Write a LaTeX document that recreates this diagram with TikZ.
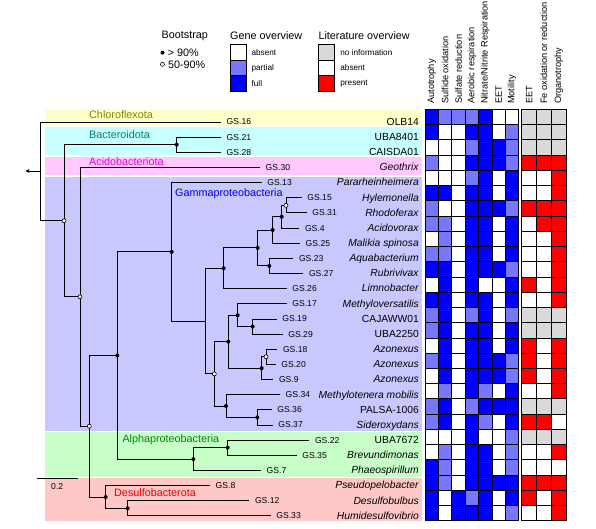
\documentclass[tikz,border=0pt]{standalone}
\usepackage{fontspec}
\setmainfont{Liberation Sans}
\usetikzlibrary{positioning, arrows.meta}

\definecolor{bandyellow}{RGB}{255,255,200}
\definecolor{bandcyan}{RGB}{200,255,255}
\definecolor{bandpink}{RGB}{255,200,255}
\definecolor{bandlav}{RGB}{200,200,255}
\definecolor{bandgreen}{RGB}{200,255,200}
\definecolor{bandred}{RGB}{255,200,200}
\definecolor{partblue}{RGB}{120,120,255}
\definecolor{fullblue}{RGB}{0,0,255}
\definecolor{noinfo}{RGB}{217,217,217}
\definecolor{chlorotxt}{RGB}{140,130,0}
\definecolor{bactotxt}{RGB}{0,128,128}
\definecolor{acidotxt}{RGB}{225,0,225}
\definecolor{gammatxt}{RGB}{0,0,220}
\definecolor{alphatxt}{RGB}{0,135,0}
\definecolor{desulfotxt}{RGB}{230,0,0}

\begin{document}
\begin{tikzpicture}[x=1pt, y=-1pt,
  br/.style={line width=0.9pt},
  bsfill/.style={circle, fill=black, inner sep=0pt, minimum size=4pt},
  bsopen/.style={circle, draw=black, fill=white, line width=0.6pt, inner sep=0pt, minimum size=4pt},
  gs/.style={font=\fontsize{8.6}{10}\selectfont, inner sep=0.5pt},
  taxon/.style={font=\fontsize{10.3}{12}\selectfont, anchor=base east, inner sep=0pt},
  clade/.style={font=\fontsize{10.8}{13}\selectfont, anchor=base west, inner sep=0pt},
  hdr/.style={font=\fontsize{9.2}{10}\selectfont, rotate=90, anchor=west, inner sep=0.5pt},
  ttl/.style={font=\fontsize{10.8}{13}\selectfont, anchor=west, inner sep=0pt},
  keytxt/.style={font=\fontsize{8.2}{10}\selectfont, inner sep=0pt},
  keybox/.style={draw, line width=0.8pt, minimum width=16pt, minimum height=15.8pt, inner sep=0pt},
  cell/.style={draw=black, line width=0.8pt},
  gene0/.style={fill=white}, gene1/.style={fill=partblue}, gene2/.style={fill=fullblue},
  litn/.style={fill=noinfo}, lit0/.style={fill=white}, lit1/.style={fill=red}]
  \useasboundingbox (0,0) rectangle (596,529);

  % clade bands
  \fill[bandyellow] (45,109.3) rectangle (422,126.2);
  \fill[bandcyan] (45,127.5) rectangle (422,155.3);
  \fill[bandpink] (45,156.7) rectangle (422,175.3);
  \fill[bandlav] (45,176.7) rectangle (422,430.7);
  \fill[bandgreen] (45,432) rectangle (422,476.7);
  \fill[bandred] (45,478) rectangle (422,520.7);

  \node[clade, text=chlorotxt] (chloro) at (89,119) {Chloroflexota};
  \node[clade, text=bactotxt] (bacto) at (89,138.3) {Bacteroidota};
  \node[clade, text=acidotxt] (acido) at (89,165.3) {Acidobacteriota};
  \node[clade, text=gammatxt] (gamma) at (175,196.5) {Gammaproteobacteria};
  \node[clade, text=alphatxt] (alpha) at (122.3,442.5) {Alphaproteobacteria};
  \node[clade, text=desulfotxt] (desulfo) at (114,496) {Desulfobacterota};

  % internal nodes
  \coordinate (root) at (40,171);
  \coordinate (out) at (25,171);
  \coordinate (A) at (64,220.8);
  \coordinate (Bc) at (176.7,144.7);
  \coordinate (B) at (80,296.8);
  \coordinate (C) at (89.3,426.2);
  \coordinate (D) at (117.3,355.5);
  \coordinate (E) at (171.7,251.9);
  \coordinate (F) at (205.7,321.1);
  \coordinate (G) at (223.7,268.3);
  \coordinate (H) at (257.7,247.9);
  \coordinate (I) at (272.7,230);
  \coordinate (J) at (281.7,216.7);
  \coordinate (K) at (286,205.3);
  \coordinate (L) at (269.3,265.9);
  \coordinate (M) at (214.3,373.9);
  \coordinate (N) at (228.3,341.7);
  \coordinate (O) at (237.7,315.2);
  \coordinate (P) at (252.7,326.5);
  \coordinate (Q) at (261.7,368.2);
  \coordinate (R) at (266,356.8);
  \coordinate (S) at (226,406);
  \coordinate (T) at (257.3,417.4);
  \coordinate (U) at (193.3,459.1);
  \coordinate (V) at (227.7,447.7);
  \coordinate (W) at (105.7,497);
  \coordinate (X) at (127.7,508.3);

  % tips
  \foreach \r/\g/\x/\nm in {1/16/221/OLB14, 2/21/221/UBA8401, 3/28/221/CAISDA01,
      4/30/260/\textit{Geothrix}, 5/13/261.7/\textit{Pararheinheimera},
      6/15/301.7/\textit{Hylemonella}, 7/31/306.7/\textit{Rhodoferax},
      8/4/299.3/\textit{Acidovorax}, 9/25/300/\textit{Malikia spinosa},
      10/23/293.3/\textit{Aquabacterium}, 11/27/303.3/\textit{Rubrivivax},
      12/26/286.7/\textit{Limnobacter}, 13/17/286.7/\textit{Methyloversatilis},
      14/19/276.7/CAJAWW01, 15/29/282.7/UBA2250,
      16/18/277.3/\textit{Azonexus}, 17/20/275.7/\textit{Azonexus}, 18/9/273.3/\textit{Azonexus},
      19/34/280/\textit{Methylotenera mobilis}, 20/36/271.7/PALSA-1006,
      21/37/272.7/\textit{Sideroxydans}, 22/22/309.3/UBA7672,
      23/35/296.7/\textit{Brevundimonas}, 24/7/261/\textit{Phaeospirillum},
      25/8/210/\textit{Pseudopelobacter}, 26/12/249.3/\textit{Desulfobulbus},
      27/33/270.7/\textit{Humidesulfovibrio}} {
    \coordinate (t\r) at (\x, {122+15.15*(\r-1)});
    \node[gs, right=5pt of t\r] (gs\r) {GS.\g};
    \node[taxon] (nm\r) at (419, {125.3+15.15*(\r-1)}) {\nm};
  }

  % branches
  \foreach \p/\c in {root/t1, root/A, A/Bc, A/B, Bc/t2, Bc/t3, B/t4, B/C,
      C/D, C/W, D/E, D/U, E/t5, E/F, F/G, F/M, G/H, G/t12, H/I, H/L,
      I/J, I/t9, J/K, J/t8, K/t6, K/t7, L/t10, L/t11, M/N, M/S,
      N/O, N/Q, O/t13, O/P, P/t14, P/t15, Q/R, Q/t18, R/t16, R/t17,
      S/t19, S/T, T/t20, T/t21, U/V, U/t24, V/t22, V/t23,
      W/t25, W/X, X/t26, X/t27}
    \draw[br] (\p) |- (\c);
  \draw[br, -{Latex[length=4pt, width=4pt]}] (root) -- (out);

  % bootstrap support
  \foreach \n in {Bc, D, E, G, H, I, J, L, N, O, P, Q, S, T, U, V, W, X}
    \node[bsfill] (bs\n) at (\n) {};
  \foreach \n in {A, B, C, K, M, R}
    \node[bsopen] (bs\n) at (\n) {};

  % scale bar
  \coordinate (sbl) at (36.7,478.3);
  \coordinate (sbr) at (77.7,478.3);
  \draw[br] (sbl) -- (sbr);
  \node[gs, anchor=north] (sblab) at (57.2,482.5) {0.2};

  % heatmap
  \foreach \r/\gv/\lv in {
      1/{2,1,1,1,2,0,0}/{n,n,n}, 2/{2,0,0,2,2,0,1}/{n,n,n}, 3/{0,0,0,1,2,2,1}/{n,n,n},
      4/{1,0,0,2,2,2,1}/{1,1,1}, 5/{0,0,0,1,2,0,2}/{0,0,1}, 6/{2,2,0,2,2,0,2}/{0,0,1},
      7/{1,0,0,2,2,2,1}/{1,1,1}, 8/{1,1,0,2,2,0,2}/{0,1,1}, 9/{0,1,0,2,2,0,2}/{0,0,1},
      10/{1,1,0,2,2,0,2}/{0,0,1}, 11/{2,2,0,2,2,2,1}/{0,0,1}, 12/{0,2,0,2,0,0,2}/{1,0,1},
      13/{2,2,0,2,2,0,2}/{0,0,1}, 14/{1,2,0,1,2,0,1}/{n,n,n}, 15/{1,2,0,2,2,0,2}/{n,n,n},
      16/{0,2,0,2,2,0,2}/{1,0,1}, 17/{1,2,0,2,2,2,1}/{1,0,1}, 18/{0,2,0,2,2,2,1}/{1,0,1},
      19/{0,1,0,2,1,0,2}/{0,0,1}, 20/{1,2,0,1,2,2,2}/{n,n,n}, 21/{1,2,0,2,1,0,2}/{1,1,0},
      22/{0,0,0,2,0,0,1}/{n,n,n}, 23/{0,1,0,2,2,0,1}/{0,0,1}, 24/{2,1,0,2,2,0,1}/{0,0,0},
      25/{2,1,0,2,2,2,2}/{1,1,1}, 26/{2,0,2,1,2,0,2}/{1,0,1}, 27/{2,0,2,2,2,0,1}/{0,0,1}} {
    \foreach \v [count=\c] in \gv
      \draw[cell, gene\v] ({425+13.4*(\c-1)}, {109.3+15.24*(\r-1)}) rectangle ++(13.4,15.24);
    \foreach \v [count=\c] in \lv
      \draw[cell, lit\v] ({521.7+14.8*(\c-1)}, {109.3+15.24*(\r-1)}) rectangle ++(14.8,15.24);
  }

  % column headers
  \foreach \x/\t [count=\c] in {431.7/Autotrophy, 445.1/Sulfide oxidation, 458.5/Sulfate reduction,
      471.9/Aerobic respiration, 485.3/{Nitrate/Nitrite Respiration}, 498.7/EET, 512.1/Motility,
      529.1/EET, 543.9/Fe oxidation or reduction, 558.7/Organotrophy}
    \node[hdr] (h\c) at (\x,104.5) {\t};

  % legend
  \node[ttl] (bstitle) at (161.5,36) {Bootstrap};
  \node[bsfill] (bshi) at (162.5,52.7) {};
  \node[ttl, right=3pt of bshi] (bshitxt) {> 90\%};
  \node[bsopen] (bslo) at (162.5,64.3) {};
  \node[ttl, right=3pt of bslo] (bslotxt) {50-90\%};

  \node[ttl] (genettl) at (230,36) {Gene overview};
  \node[keybox, gene0] (gkey0) at (238,52.2) {};
  \node[keybox, gene1] (gkey1) at (238,68) {};
  \node[keybox, gene2] (gkey2) at (238,83.8) {};
  \node[keytxt, right=5pt of gkey0] (gtxt0) {absent};
  \node[keytxt, right=5pt of gkey1] (gtxt1) {partial};
  \node[keytxt, right=5pt of gkey2] (gtxt2) {full};

  \node[ttl] (litttl) at (318.3,36) {Literature overview};
  \node[keybox, litn] (lkeyn) at (326.3,52.2) {};
  \node[keybox, lit0] (lkey0) at (326.3,68) {};
  \node[keybox, lit1] (lkey1) at (326.3,83.8) {};
  \node[keytxt, right=5.5pt of lkeyn] (ltxtn) {no information};
  \node[keytxt, right=5.5pt of lkey0] (ltxt0) {absent};
  \node[keytxt, right=5.5pt of lkey1] (ltxt1) {present};
\end{tikzpicture}
\end{document}
